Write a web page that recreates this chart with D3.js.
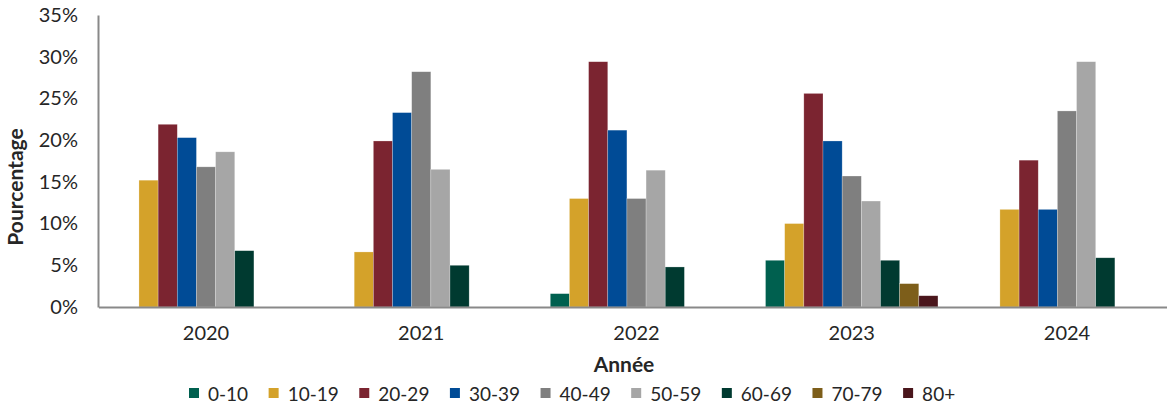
<!DOCTYPE html>
<html><head><meta charset="utf-8">
<script src="https://cdn.jsdelivr.net/npm/d3@7"></script>
<style>body{margin:0;background:#fff}svg{display:block}text{font-family:Lato,"Open Sans",sans-serif;fill:#262626}</style>
</head><body><svg id="c" width="1167" height="409"></svg>
<script>
const years = ["2020","2021","2022","2023","2024"];
const groups = ["0-10","10-19","20-29","30-39","40-49","50-59","60-69","70-79","80+"];
const colors = ["#00604F","#D4A22A","#7B2430","#004B96","#7F7F7F","#A6A6A6","#003A30","#7D5E1A","#4A161C"];
const v0_10  = [0, 0, 1.6, 5.6, 0];
const v10_19 = [15.2, 6.6, 13.0, 10.0, 11.7];
const v20_29 = [21.9, 19.9, 29.4, 25.6, 17.6];
const v30_39 = [20.3, 23.3, 21.2, 19.9, 11.7];
const v40_49 = [16.8, 28.2, 13.0, 15.7, 23.5];
const v50_59 = [18.6, 16.5, 16.4, 12.7, 29.4];
const v60_69 = [6.75, 5.0, 4.8, 5.6, 5.9];
const v70_79 = [0, 0, 0, 2.8, 0];
const v80p   = [0, 0, 0, 1.35, 0];
const yTicks = [0,5,10,15,20,25,30,35];
const series = [v0_10,v10_19,v20_29,v30_39,v40_49,v50_59,v60_69,v70_79,v80p];

const svg = d3.select("#c");
const x0 = d3.scaleBand().domain(years).range([98.4, 1174.6]).paddingInner(0).paddingOuter(0);
const pad = 21.4;
const x1 = d3.scaleBand().domain(groups).range([pad, x0.bandwidth()-pad]).padding(0);
const y = d3.scaleLinear().domain([0,35]).range([307,15]);

// bars
years.forEach((yr,i)=>{
  const g = svg.append("g").attr("transform",`translate(${x0(yr)},0)`);
  groups.forEach((gr,j)=>{
    const v = series[j][i];
    if(v>0){
      g.append("rect").attr("x",x1(gr)).attr("width",x1.bandwidth())
       .attr("y",y(v)).attr("height",y(0)-y(v)).attr("fill",colors[j])
       .attr("stroke","#fff").attr("stroke-opacity",0.4).attr("stroke-width",0.6);
    }
  });
});

// y axis
const ya = svg.append("g").attr("transform","translate(98,0)")
  .call(d3.axisLeft(y).tickValues(yTicks).tickSize(0).tickPadding(20).tickFormat(d=>d+"%"));
ya.select(".domain").attr("stroke","#898989").attr("stroke-width",2);
ya.selectAll("text").attr("font-size",20).attr("fill","#262626").style("font-family","Lato");

// x axis
const xa = svg.append("g").attr("transform","translate(0,307)")
  .call(d3.axisBottom(x0).tickSize(0).tickPadding(19));
xa.select(".domain").attr("stroke","#898989").attr("stroke-width",2);
xa.selectAll("text").attr("font-size",20).attr("fill","#262626").style("font-family","Lato");

// axis titles
svg.append("text").attr("transform","translate(23,187) rotate(-90)").attr("text-anchor","middle")
  .attr("font-size",21).attr("font-weight","bold").text("Pourcentage");
svg.append("text").attr("x",624).attr("y",372).attr("text-anchor","middle")
  .attr("font-size",21).attr("font-weight","bold").text("Année");

// legend
const legend = svg.append("g");
let lx = 189;
groups.forEach((gr,j)=>{
  legend.append("rect").attr("x",lx).attr("y",388).attr("width",10).attr("height",10).attr("fill",colors[j]);
  const t = legend.append("text").attr("x",lx+19).attr("y",401).attr("font-size",19).text(gr);
  lx = lx + 19 + t.node().getComputedTextLength() + 20.5;
});
</script></body></html>
